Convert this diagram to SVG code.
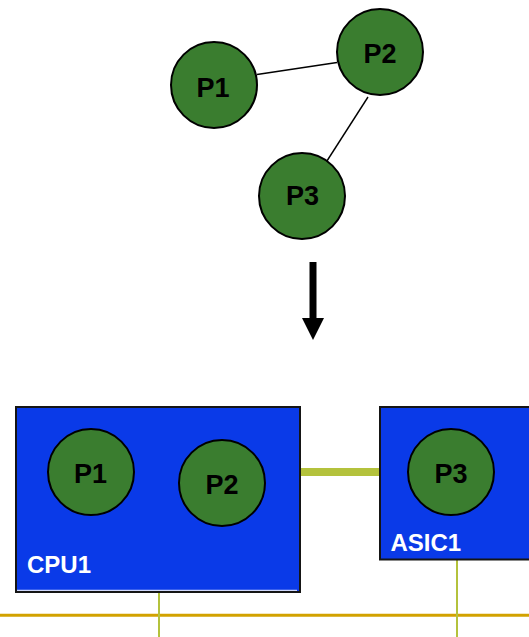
<svg xmlns="http://www.w3.org/2000/svg" width="529" height="637" viewBox="0 0 529 637">
  <style>
    .proc { fill: #3A7D2F; stroke: #000; stroke-width: 2; }
    .plabel { font-family: "Liberation Sans", Arial, sans-serif; font-weight: bold; font-size: 27px; fill: #000; text-anchor: middle; }
    .hw { fill: #0A3AE8; stroke: #151515; stroke-width: 2; }
    .hwlabel { font-family: "Liberation Sans", Arial, sans-serif; font-weight: bold; font-size: 24px; fill: #fff; }
    .edge { stroke: #000; stroke-width: 1.4; fill: none; }
    .link { stroke: #B4C23C; fill: none; }
    .bus { stroke: #D2A200; stroke-width: 3; fill: none; }
  </style>
  <defs>
    <marker id="head" markerUnits="userSpaceOnUse" markerWidth="22" markerHeight="22" refX="0" refY="11" orient="auto">
      <path d="M0,0 L22,11 L0,22 Z" fill="#000"/>
    </marker>
  </defs>

  <rect width="529" height="637" fill="#fff"/>

  <!-- process graph edges -->
  <g id="connectors">
    <line class="edge" x1="257" y1="74.5" x2="337" y2="62.5"/>
    <line class="edge" x1="368" y1="97" x2="325" y2="164"/>
    <!-- mapping arrow -->
    <line x1="313" y1="262" x2="313" y2="318" stroke="#000" stroke-width="7" marker-end="url(#head)"/>
    <!-- CPU1 to ASIC1 link -->
    <line class="link" x1="300" y1="472" x2="380" y2="472" stroke-width="8"/>
    <!-- system bus and taps -->
    <line class="bus" x1="0" y1="615.2" x2="529" y2="615.2"/>
    <line class="link" x1="159" y1="593" x2="159" y2="637" stroke-width="2"/>
    <line class="link" x1="457" y1="560" x2="457" y2="637" stroke-width="2"/>
  </g>

  <!-- process graph -->
  <g id="p1">
    <circle class="proc" cx="214" cy="85" r="43"/>
    <text class="plabel" x="213" y="96.5">P1</text>
  </g>
  <g id="p2">
    <circle class="proc" cx="380" cy="52" r="43"/>
    <text class="plabel" x="380" y="63">P2</text>
  </g>
  <g id="p3">
    <circle class="proc" cx="302" cy="196" r="43"/>
    <text class="plabel" x="302.5" y="205">P3</text>
  </g>

  <!-- hardware units -->
  <g id="cpu1">
    <rect class="hw" x="16" y="407" width="284" height="185"/>
    <line x1="17" y1="590.3" x2="297" y2="590.3" stroke="#fff" stroke-width="1"/>
    <text class="hwlabel" x="27" y="573">CPU1</text>
    <g id="cpu1-p1">
      <circle class="proc" cx="91" cy="472" r="43"/>
      <text class="plabel" x="90.5" y="483">P1</text>
    </g>
    <g id="cpu1-p2">
      <circle class="proc" cx="222" cy="483" r="43"/>
      <text class="plabel" x="222" y="494">P2</text>
    </g>
  </g>
  <g id="asic1">
    <rect class="hw" x="380" y="407" width="160" height="152.5"/>
    <text class="hwlabel" x="390.5" y="550.5">ASIC1</text>
    <g id="asic1-p3">
      <circle class="proc" cx="451" cy="472" r="43"/>
      <text class="plabel" x="451" y="483">P3</text>
    </g>
  </g>
</svg>
